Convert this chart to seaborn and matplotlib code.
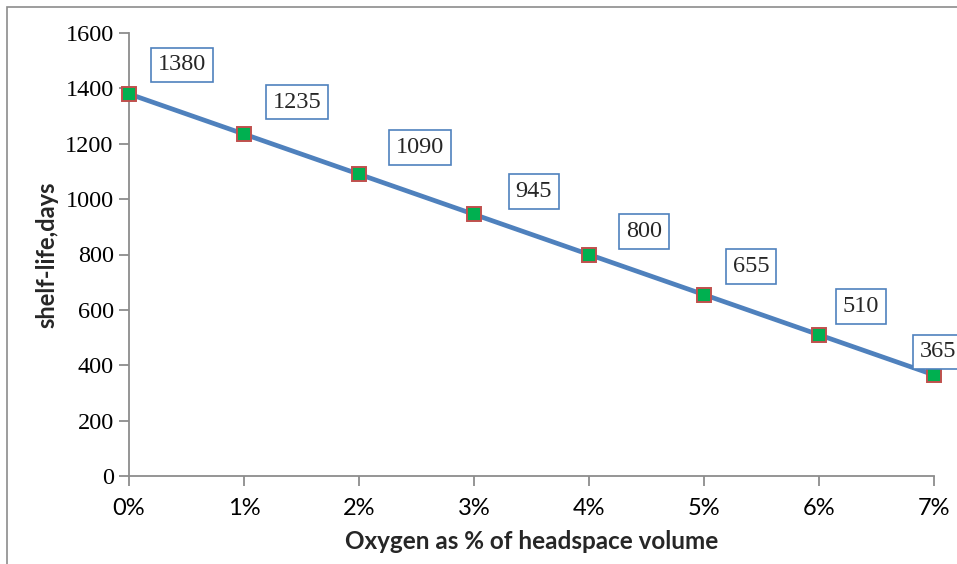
import matplotlib
matplotlib.use("Agg")
import matplotlib.pyplot as plt
import seaborn as sns
import pandas as pd
from matplotlib.patches import Rectangle

categories = ["0%", "1%", "2%", "3%", "4%", "5%", "6%", "7%"]
shelf_life = [1380, 1235, 1090, 945, 800, 655, 510, 365]
y_ticks = [0, 200, 400, 600, 800, 1000, 1200, 1400, 1600]

df = pd.DataFrame({"x": range(len(categories)), "y": shelf_life})

sns.set_theme(style="white")
plt.rcParams["font.family"] = ["Liberation Serif", "DejaVu Sans"]

fig = plt.figure(figsize=(9.57, 5.64), dpi=100)
ax = fig.add_axes([129/957, 1-476/564, (934-129)/957, (476-33)/564])

# chart-area border
fig.patches.append(Rectangle((7/957, -0.1), 1.2, 1-7/564+0.1, transform=fig.transFigure,
                             fill=False, edgecolor="#8c8c8c", linewidth=1.2, zorder=0))

sns.lineplot(data=df, x="x", y="y", ax=ax, color="#4F81BD", linewidth=3.4,
             marker="s", markersize=10, markerfacecolor="#00B050",
             markeredgecolor="#C0504D", markeredgewidth=1.4, clip_on=False, zorder=3)

ax.set_xlim(0, len(categories)-1)
ax.set_ylim(0, 1600)
ax.set_xticks(range(len(categories)))
ax.set_xticklabels(categories, fontfamily="Lato", fontsize=17)
ax.set_yticks(y_ticks)
ax.set_yticklabels([str(v) for v in y_ticks], fontfamily="Liberation Serif", fontsize=17.5)

for s in ["top", "right"]:
    ax.spines[s].set_visible(False)
for s in ["left", "bottom"]:
    ax.spines[s].set_color("#8c8c8c")
    ax.spines[s].set_linewidth(1.3)
ax.tick_params(axis="both", which="both", direction="out", length=7, width=1.3,
               color="#8c8c8c", labelcolor="black", pad=4, bottom=True, left=True)
ax.tick_params(axis="x", pad=9)

ax.set_xlabel("Oxygen as % of headspace volume", fontfamily="Lato", fontweight="bold",
              fontsize=17.5, labelpad=8)
ax.set_ylabel("shelf-life,days", fontfamily="Lato", fontweight="bold", fontsize=17,
              labelpad=5)

offsets = [(53, 29), (53, 32), (61, 27), (60, 23), (55, 23), (47, 28), (42, 28), (4, 23)]
for i, (v, off) in enumerate(zip(shelf_life, offsets)):
    ax.annotate(str(v), xy=(i, v), xytext=(off[0]*0.72, off[1]*0.72), textcoords="offset points",
                ha="center", va="center", fontsize=17.5, fontfamily="Liberation Serif",
                annotation_clip=False, zorder=5,
                bbox=dict(boxstyle="square,pad=0.28", facecolor="white",
                          edgecolor="#4F81BD", linewidth=1.2))

fig.savefig("out.png", dpi=100)
